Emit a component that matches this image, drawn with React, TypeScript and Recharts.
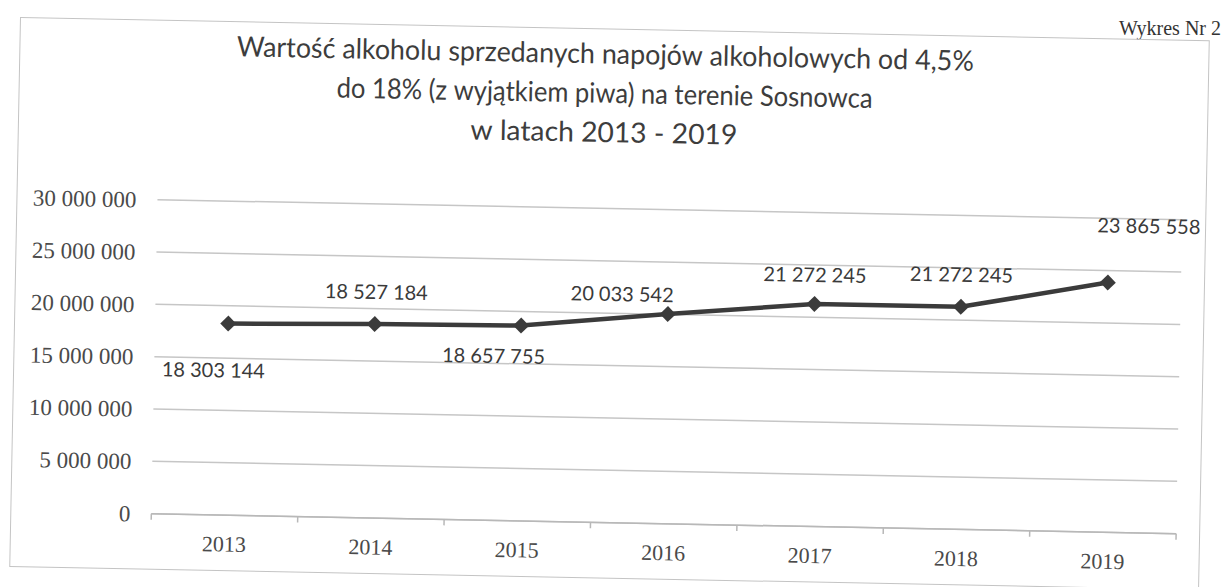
import { CartesianGrid, LabelList, Line, LineChart, XAxis, YAxis } from "recharts";

const years = [2013, 2014, 2015, 2016, 2017, 2018, 2019];
const sales = [18303144, 18527184, 18657755, 20033542, 21272245, 21272245, 23865558];
const valueTicks = [0, 5000000, 10000000, 15000000, 20000000, 25000000, 30000000];
const titleLines = [
  "Wartość alkoholu sprzedanych napojów alkoholowych od 4,5%",
  "do 18% (z wyjątkiem piwa) na terenie Sosnowca",
  "w latach 2013 - 2019",
];
const pageCaption = "Wykres Nr 2";

const data = years.map((year, i) => ({ year, value: sales[i] }));
// category boundaries get small tick marks, year centres get the labels
const xTicks = [...years.map((y) => y - 0.5), years[years.length - 1] + 0.5, ...years].sort((a, b) => a - b);

// hand-placed data labels in the original (dx, dy from the point)
const labelNudge: Array<[number, number]> = [
  [-14, 46],
  [1, -33],
  [-27, 30],
  [-46, -20],
  [0, -30],
  [0, -33],
  [40, -58],
];
const titleWidths = [737, 536, 267];

const W = 1190;
const H = 550;
const SERIF = "'Liberation Serif', serif";
const SANS = "Lato, 'Open Sans', sans-serif";
const TITLE_SIZE = 28;

const spaced = (v: number) => String(v).replace(/\B(?=(\d{3})+(?!\d))/g, " ");

let ctx: CanvasRenderingContext2D | null = null;
function measure(text: string) {
  if (!ctx) ctx = document.createElement("canvas").getContext("2d");
  if (!ctx) return text.length * TITLE_SIZE * 0.5;
  ctx.font = `${TITLE_SIZE}px Lato`;
  return ctx.measureText(text).width;
}

// title is set word by word so the scan's slant does not blow up the boxes
function TitleLine({ text, cx, y, width }: { text: string; cx: number; y: number; width: number }) {
  const words = text.split(" ");
  const space = measure(" ");
  const ws = words.map(measure);
  const natural = ws.reduce((a, b) => a + b, 0) + space * (words.length - 1);
  const k = width / natural;
  let x = cx - width / 2;
  return (
    <>
      {words.map((w, i) => {
        const el = (
          <text
            key={i}
            x={x}
            y={y}
            textLength={ws[i] * k}
            lengthAdjust="spacingAndGlyphs"
            fontFamily={SANS}
            fontSize={TITLE_SIZE}
            fill="#3d3d3d"
          >
            {w}
          </text>
        );
        x += (ws[i] + space) * k;
        return el;
      })}
    </>
  );
}

function YearTick({ x, y, payload }: any) {
  const v = payload.value;
  if (!Number.isInteger(v)) {
    return <line x1={x} x2={x} y1={y} y2={y + 6} stroke="#b8b8b8" strokeWidth={1.5} />;
  }
  return (
    <text x={x} y={y + 29} textAnchor="middle" dominantBaseline="central" fontFamily={SERIF} fontSize={22} fill="#4a4a4a">
      {v}
    </text>
  );
}

function Diamond({ cx, cy }: any) {
  if (cx == null || cy == null) return null;
  const r = 8;
  return <polygon points={`${cx},${cy - r} ${cx + r},${cy} ${cx},${cy + r} ${cx - r},${cy}`} fill="#3b3b3b" />;
}

function PointLabel(props: any) {
  const { x, y, value, index } = props;
  const [dx, dy] = labelNudge[index] ?? [0, -30];
  return (
    <text x={x + dx} y={y + dy} textAnchor="middle" dominantBaseline="central" fontFamily={SANS} fontSize={20} fill="#3a3a3a">
      {spaced(value)}
    </text>
  );
}

export default function App() {
  return (
    <div style={{ position: "absolute", left: 0, top: 0, width: 1225, height: 587, background: "#fff", overflow: "hidden" }}>
      <svg width={120} height={45} style={{ position: "absolute", left: 1115, top: 0 }}>
        <text x={106} y={35} textAnchor="end" fontFamily={SERIF} fontSize={20} fill="#333">
          {pageCaption}
        </text>
      </svg>
      <div
        style={{
          position: "absolute",
          left: 20,
          top: 17,
          width: W,
          height: H,
          border: "1.5px solid #c4c4c4",
          boxSizing: "border-box",
          transform: "rotate(1.12deg)",
          transformOrigin: "0 0",
        }}
      >
        <svg width={W} height={130} style={{ position: "absolute", left: 0, top: 0 }}>
          {titleLines.map((line, i) => (
            <TitleLine key={i} text={line} cx={585} y={34 + i * 39.3} width={titleWidths[i]} />
          ))}
        </svg>
        <div style={{ position: "absolute", left: 0, top: 0 }}>
          <LineChart width={W} height={H} data={data} margin={{ top: 179, right: 25, bottom: 0, left: 0 }}>
            <CartesianGrid vertical={false} stroke="#c6c6c6" strokeWidth={1.5} />
            <XAxis
              dataKey="year"
              type="number"
              domain={[years[0] - 0.5, years[years.length - 1] + 0.5]}
              ticks={xTicks}
              interval={0}
              height={57}
              tickSize={0}
              tickMargin={0}
              tickLine={false}
              axisLine={{ stroke: "#b8b8b8", strokeWidth: 1.5 }}
              tick={<YearTick />}
            />
            <YAxis
              domain={[0, 30000000]}
              ticks={valueTicks}
              width={140}
              tickSize={0}
              tickMargin={21}
              axisLine={false}
              tickLine={false}
              tickFormatter={spaced}
              tick={{ fontFamily: SERIF, fontSize: 23, fill: "#4a4a4a" }}
            />
            <Line
              dataKey="value"
              stroke="#3b3b3b"
              strokeWidth={4.5}
              dot={<Diamond />}
              activeDot={false}
              isAnimationActive={false}
            >
              <LabelList dataKey="value" content={<PointLabel />} />
            </Line>
          </LineChart>
        </div>
      </div>
    </div>
  );
}
